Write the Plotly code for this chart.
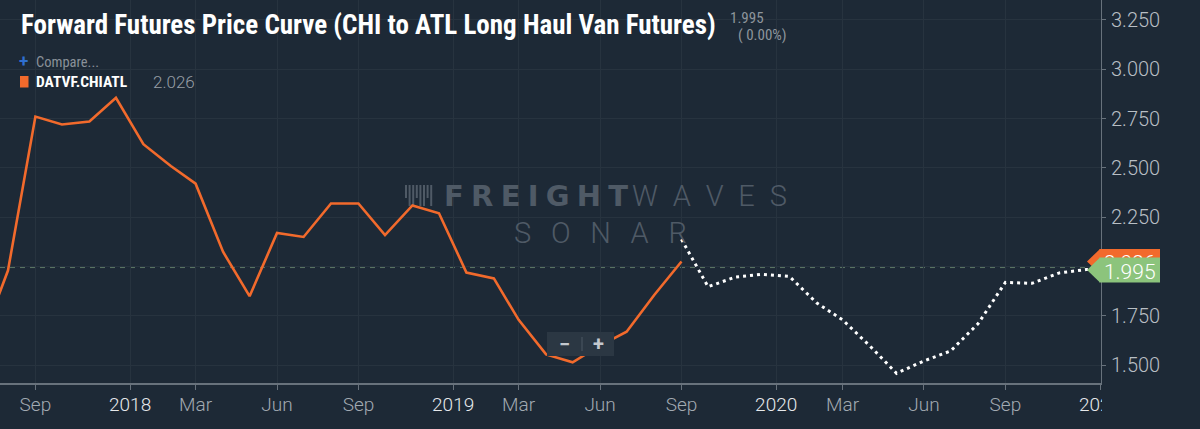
import plotly.graph_objects as go

# ---------------- data ----------------
hist_dates = [
    "2017-07-16", "2017-08-16", "2017-09-16", "2017-10-16", "2017-11-16", "2017-12-16",
    "2018-01-16", "2018-02-16", "2018-03-16", "2018-04-16", "2018-05-16", "2018-06-16",
    "2018-07-16", "2018-08-16", "2018-09-16", "2018-10-16", "2018-11-16", "2018-12-16",
    "2019-01-16", "2019-02-16", "2019-03-16", "2019-04-16", "2019-05-16", "2019-06-16",
    "2019-07-16", "2019-08-16", "2019-09-16",
]
hist_values = [
    1.61, 1.98, 2.76, 2.72, 2.735, 2.855,
    2.62, 2.51, 2.42, 2.075, 1.85, 2.17,
    2.15, 2.32, 2.32, 2.16, 2.31, 2.27,
    1.97, 1.94, 1.73, 1.555, 1.515, 1.60,
    1.67, 1.855, 2.026,
]
fwd_dates = [
    "2019-09-16", "2019-10-16", "2019-11-16", "2019-12-16",
    "2020-01-16", "2020-02-16", "2020-03-16", "2020-04-16", "2020-05-16", "2020-06-16",
    "2020-07-16", "2020-08-16", "2020-09-16", "2020-10-16", "2020-11-16", "2020-12-16",
    "2021-01-16",
]
fwd_values = [
    2.138, 1.898, 1.947, 1.961,
    1.950, 1.815, 1.730, 1.597, 1.459, 1.522,
    1.572, 1.710, 1.920, 1.915, 1.968, 1.985,
    1.995,
]
x_tick_dates = [
    "2017-09-16", "2018-01-01", "2018-03-16", "2018-06-16", "2018-09-16",
    "2019-01-01", "2019-03-16", "2019-06-16", "2019-09-16",
    "2020-01-01", "2020-03-16", "2020-06-16", "2020-09-16", "2021-01-01",
]
x_tick_labels = [
    "Sep", "2018", "Mar", "Jun", "Sep",
    "2019", "Mar", "Jun", "Sep",
    "2020", "Mar", "Jun", "Sep", "2021",
]
y_tick_values = [1.5, 1.75, 2.0, 2.25, 2.5, 2.75, 3.0, 3.25]

series_name = "DATVF.CHIATL"
title_text = "Forward Futures Price Curve (CHI to ATL Long Haul Van Futures)"

# ---------------- style ----------------
BG = "#1d2936"
GRID = "#27333f"
AXIS = "#68727c"
ORANGE = "#f26a2c"
GREEN = "#8cc47c"
WM = "#4f5a66"
CONDENSED = "Liberation Sans Narrow, Roboto Condensed, DejaVu Sans Condensed, Roboto, sans-serif"

Y_RANGE = [1.41, 3.351]
X_RANGE = ["2017-08-07", "2021-01-02"]
W, H = 1200, 429
ML, MR, MT, MB = 0, 99, 0, 46
PW, PH = W - ML - MR, H - MT - MB


def px(x):
    return (x - ML) / PW


def py(y):
    return 1 - (y - MT) / PH


def vy(v):
    return (v - Y_RANGE[0]) / (Y_RANGE[1] - Y_RANGE[0])


def styled(lbl):
    if lbl.isdigit():
        return "<span style='color:#e6e9ec'>" + lbl + "</span>"
    return lbl


fig = go.Figure()
fig.add_trace(go.Scatter(
    x=hist_dates, y=hist_values, mode="lines", name=series_name,
    line=dict(color=ORANGE, width=2.6), hoverinfo="skip",
))
fig.add_trace(go.Scatter(
    x=fwd_dates, y=fwd_values, mode="lines", name="Forward",
    line=dict(color="#ffffff", width=3, dash="3px,4px"), hoverinfo="skip",
))

shapes = []
annotations = []

# last value dashed line
shapes.append(dict(type="line", xref="paper", yref="y", x0=0, x1=1,
                   y0=fwd_values[-1], y1=fwd_values[-1], layer="below",
                   line=dict(color="#5d7866", width=1, dash="5px,5px")))

# watermark icon bars
for i in range(8):
    xb = 406 + i * 3.6
    shapes.append(dict(type="line", xref="paper", yref="paper",
                       x0=px(xb), x1=px(xb), y0=py(185), y1=py(206 if i % 3 else 198),
                       layer="below", line=dict(color=WM, width=2)))

# watermark text
annotations.append(dict(text="F\u2005R\u2005E\u2005I\u2005G\u2005H\u2005T", xref="paper", yref="paper",
                        x=px(442), y=py(196), xanchor="left", yanchor="middle", showarrow=False,
                        font=dict(family="DejaVu Sans", size=29, color=WM, weight=700)))
annotations.append(dict(text="W\u2002A\u2002V\u2002E\u2002S", xref="paper", yref="paper",
                        x=px(789), y=py(196), xanchor="right", yanchor="middle", showarrow=False,
                        font=dict(family="Roboto", size=29, color=WM, weight=300)))
annotations.append(dict(text="S\u2002\u2006O\u2002\u2006N\u2002\u2006A\u2002\u2006R", xref="paper", yref="paper",
                        x=px(600), y=py(233), xanchor="center", yanchor="middle", showarrow=False,
                        font=dict(family="Roboto", size=29, color=WM, weight=300)))

# title and header texts
annotations.append(dict(text="<b>" + title_text + "</b>", xref="paper", yref="paper",
                        x=px(19), y=py(25), xanchor="left", yanchor="middle", showarrow=False,
                        font=dict(family=CONDENSED, size=27, color="#ffffff")))
annotations.append(dict(text=f"{fwd_values[-1]:.3f}", xref="paper", yref="paper",
                        x=px(728), y=py(18), xanchor="left", yanchor="middle", showarrow=False,
                        font=dict(family=CONDENSED, size=15, color="#8e959c")))
annotations.append(dict(text="( 0.00%)", xref="paper", yref="paper",
                        x=px(736), y=py(35), xanchor="left", yanchor="middle", showarrow=False,
                        font=dict(family=CONDENSED, size=15, color="#8e959c")))
annotations.append(dict(text="<b>+</b>", xref="paper", yref="paper",
                        x=px(23.5), y=py(61), xanchor="center", yanchor="middle", showarrow=False,
                        font=dict(family="Roboto", size=17, color="#2f6fd0")))
annotations.append(dict(text="Compare...", xref="paper", yref="paper",
                        x=px(34), y=py(62), xanchor="left", yanchor="middle", showarrow=False,
                        font=dict(family=CONDENSED, size=14.5, color="#8a9199")))
shapes.append(dict(type="rect", xref="paper", yref="paper", x0=px(20), x1=px(28.5),
                   y0=py(76), y1=py(87.5), fillcolor=ORANGE, line=dict(width=0), layer="above"))
annotations.append(dict(text="<b>" + series_name + "</b>", xref="paper", yref="paper",
                        x=px(34), y=py(81.5), xanchor="left", yanchor="middle", showarrow=False,
                        font=dict(family=CONDENSED, size=15.5, color="#ffffff")))
annotations.append(dict(text=f"{hist_values[-1]:.3f}", xref="paper", yref="paper",
                        x=px(151), y=py(81.5), xanchor="left", yanchor="middle", showarrow=False,
                        font=dict(family="Roboto", size=17, color="#979ea5", weight=300)))

# zoom control
shapes.append(dict(type="rect", xref="paper", yref="paper", x0=px(547), x1=px(614),
                   y0=py(332), y1=py(356), fillcolor="#2b3743", line=dict(width=0), layer="above"))
shapes.append(dict(type="line", xref="paper", yref="paper", x0=px(582), x1=px(582),
                   y0=py(337), y1=py(351), line=dict(color="#4d5864", width=1), layer="above"))
annotations.append(dict(text="<b>\u2212</b>", xref="paper", yref="paper",
                        x=px(564), y=py(344), xanchor="center", yanchor="middle", showarrow=False,
                        font=dict(family="Roboto", size=20, color="#c3c8ce")))
annotations.append(dict(text="<b>+</b>", xref="paper", yref="paper",
                        x=px(598), y=py(344), xanchor="center", yanchor="middle", showarrow=False,
                        font=dict(family="Roboto", size=20, color="#c3c8ce")))

# hide part of last x tick label beyond plot edge
shapes.append(dict(type="rect", xref="paper", yref="paper", x0=px(1102), x1=px(1200),
                   y0=py(386), y1=py(429), fillcolor=BG, line=dict(width=0), layer="above"))

# price tags on the right axis
half = 12.5 / PH


def tag(value, color, shift_px):
    yc = vy(value) - shift_px / PH
    x_tip, x_box, x_end = px(1087), px(1100), px(1160)
    shapes.append(dict(type="path", xref="paper", yref="paper",
                       path=f"M {x_tip} {yc} L {x_box} {yc + half} L {x_box} {yc - half} Z",
                       fillcolor=color, line=dict(width=0), layer="above"))
    shapes.append(dict(type="rect", xref="paper", yref="paper", x0=x_box - 0.0005, x1=x_end,
                       y0=yc - half, y1=yc + half, fillcolor=color, line=dict(width=0), layer="above",
                       label=dict(text=f"{value:.3f}",
                                  font=dict(family="Roboto", size=21, color="#ffffff", weight=300))))


tag(hist_values[-1], ORANGE, 0)
tag(fwd_values[-1], GREEN, 2.5)

fig.update_layout(
    width=W, height=H,
    margin=dict(l=ML, r=MR, t=MT, b=MB),
    paper_bgcolor=BG, plot_bgcolor="rgba(0,0,0,0)",
    showlegend=False,
    shapes=shapes, annotations=annotations,
    xaxis=dict(
        type="date", range=X_RANGE,
        tickmode="array", tickvals=x_tick_dates, ticktext=[styled(t) for t in x_tick_labels],
        showgrid=True, gridcolor=GRID, gridwidth=1,
        showline=True, linecolor=AXIS, linewidth=2,
        ticks="outside", ticklen=5, tickcolor=AXIS, tickwidth=1,
        tickfont=dict(family="Roboto", size=19, color="#a2aab2", weight=300),
        ticklabelstandoff=-2, zeroline=False,
    ),
    yaxis=dict(
        side="right", range=Y_RANGE,
        tickmode="array", tickvals=y_tick_values, tickformat=".3f",
        showgrid=True, gridcolor=GRID, gridwidth=1,
        showline=True, linecolor=AXIS, linewidth=1,
        ticks="outside", ticklen=4, tickcolor=AXIS,
        tickfont=dict(family="Roboto", size=20, color="#b8bec4", weight=300),
        ticklabelstandoff=1, zeroline=False,
    ),
)

fig.write_html(
    "out.html",
    config={"displayModeBar": False, "staticPlot": True},
    post_script="document.body.style.margin='0px';document.body.style.overflow='hidden';",
)
